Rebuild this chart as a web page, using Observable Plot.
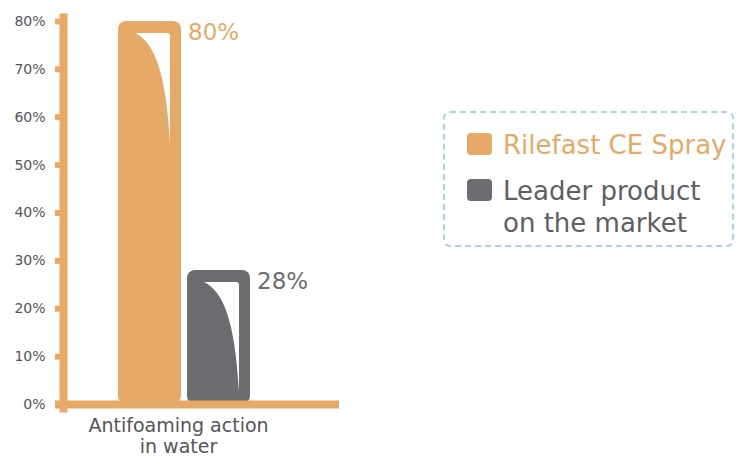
<!DOCTYPE html>
<html><head><meta charset="utf-8">
<script src="https://cdn.jsdelivr.net/npm/d3@7"></script>
<script src="https://cdn.jsdelivr.net/npm/@observablehq/plot@0.6"></script>
<style>
body{margin:0;background:#fff;}
#wrap{position:relative;width:744px;height:460px;font-family:"DejaVu Sans",sans-serif;}
#legend-box{position:absolute;left:443px;top:111px;width:287px;height:132px;border:2px dashed #a9d4e2;border-radius:7px;}
.sw{position:absolute;left:467px;width:25px;height:22px;border-radius:4px;}
.lt{position:absolute;left:503px;font-size:26px;white-space:nowrap;}
</style></head><body><div id="wrap"></div>
<script>
const series = ["Rilefast CE Spray", "Leader product on the market"];
const values = [80, 28];
const colors = ["#E5AA68", "#6C6C70"];
const legendLines = [["Rilefast CE Spray"], ["Leader product", "on the market"]];
const category = ["Antifoaming action", "in water"];
const yTicks = [0, 10, 20, 30, 40, 50, 60, 70, 80];
const orange = colors[0];
const labelGray = "#555558";

const data = series.map((s, i) => ({series: s, value: values[i]}));

const highlight = (index, scales) => {
  const g = d3.create("svg:g").attr("fill", "#fff");
  const bw = scales.x.bandwidth();
  for (const d of data) {
    const x0 = scales.x(d.series), y0 = scales.y(d.value), yb = scales.y(0);
    const left = x0 + bw * 0.27, right = x0 + bw - 11, top = y0 + 12;
    const h = Math.min(110, yb - 12 - top);
    const w = right - left, r = 3, k = h / 110;
    g.append("path").attr("d",
      `M${left},${top} L${right - r},${top} Q${right},${top} ${right},${top + r} L${right},${top + h} ` +
      `C${right - 4 * w / 35},${top + 40 * k} ${left + 20 * w / 35},${top + 10 * k} ${left},${top}Z`);
  }
  return g.node();
};

const chart = Plot.plot({
  width: 744, height: 460,
  marginTop: 17, marginBottom: 52, marginLeft: 63, marginRight: 405,
  style: {fontFamily: "'DejaVu Sans', sans-serif", fontSize: "14px", color: labelGray, background: "transparent"},
  x: {domain: series, range: [118, 250], paddingInner: 0.09, paddingOuter: 0, axis: null},
  y: {domain: [0, 80], range: [404, 21], ticks: yTicks},
  color: {domain: series, range: colors},
  marks: [
    Plot.barY(data, {x: "series", y: "value", fill: "series", rx: 8}),
    highlight,
    Plot.frame({anchor: "left", stroke: orange, strokeWidth: 8}),
    Plot.ruleY([0], {stroke: orange, strokeWidth: 8, insetLeft: -8}),
    Plot.axisY({ticks: yTicks, tickSize: 8, tickPadding: 10, stroke: orange, strokeWidth: 6,
      fill: labelGray, tickFormat: d => d + "%", fontSize: 14, label: null}),
    Plot.text(data, {x: "series", y: "value", text: d => d.value + "%", fill: "series",
      dx: 38, dy: 11, textAnchor: "start", fontSize: 23}),
    Plot.text([category.join("\n")], {frameAnchor: "bottom", dx: -23, dy: 9, lineAnchor: "top",
      lineHeight: 1.1, fontSize: 19, fill: labelGray})
  ]
});

const wrap = document.getElementById("wrap");
wrap.appendChild(chart);
const box = document.createElement("div");
box.id = "legend-box";
wrap.appendChild(box);
const swTops = [133, 179];
const textTops = [130, 175];
legendLines.forEach((lines, i) => {
  const sw = document.createElement("div");
  sw.className = "sw";
  sw.style.top = swTops[i] + "px";
  sw.style.background = colors[i];
  wrap.appendChild(sw);
  const t = document.createElement("div");
  t.className = "lt";
  t.style.top = textTops[i] + "px";
  t.style.lineHeight = (i === 0 ? 30 : 32) + "px";
  t.style.color = i === 0 ? colors[0] : "#5f5f63";
  t.innerHTML = lines.join("<br>");
  wrap.appendChild(t);
});
</script></body></html>
